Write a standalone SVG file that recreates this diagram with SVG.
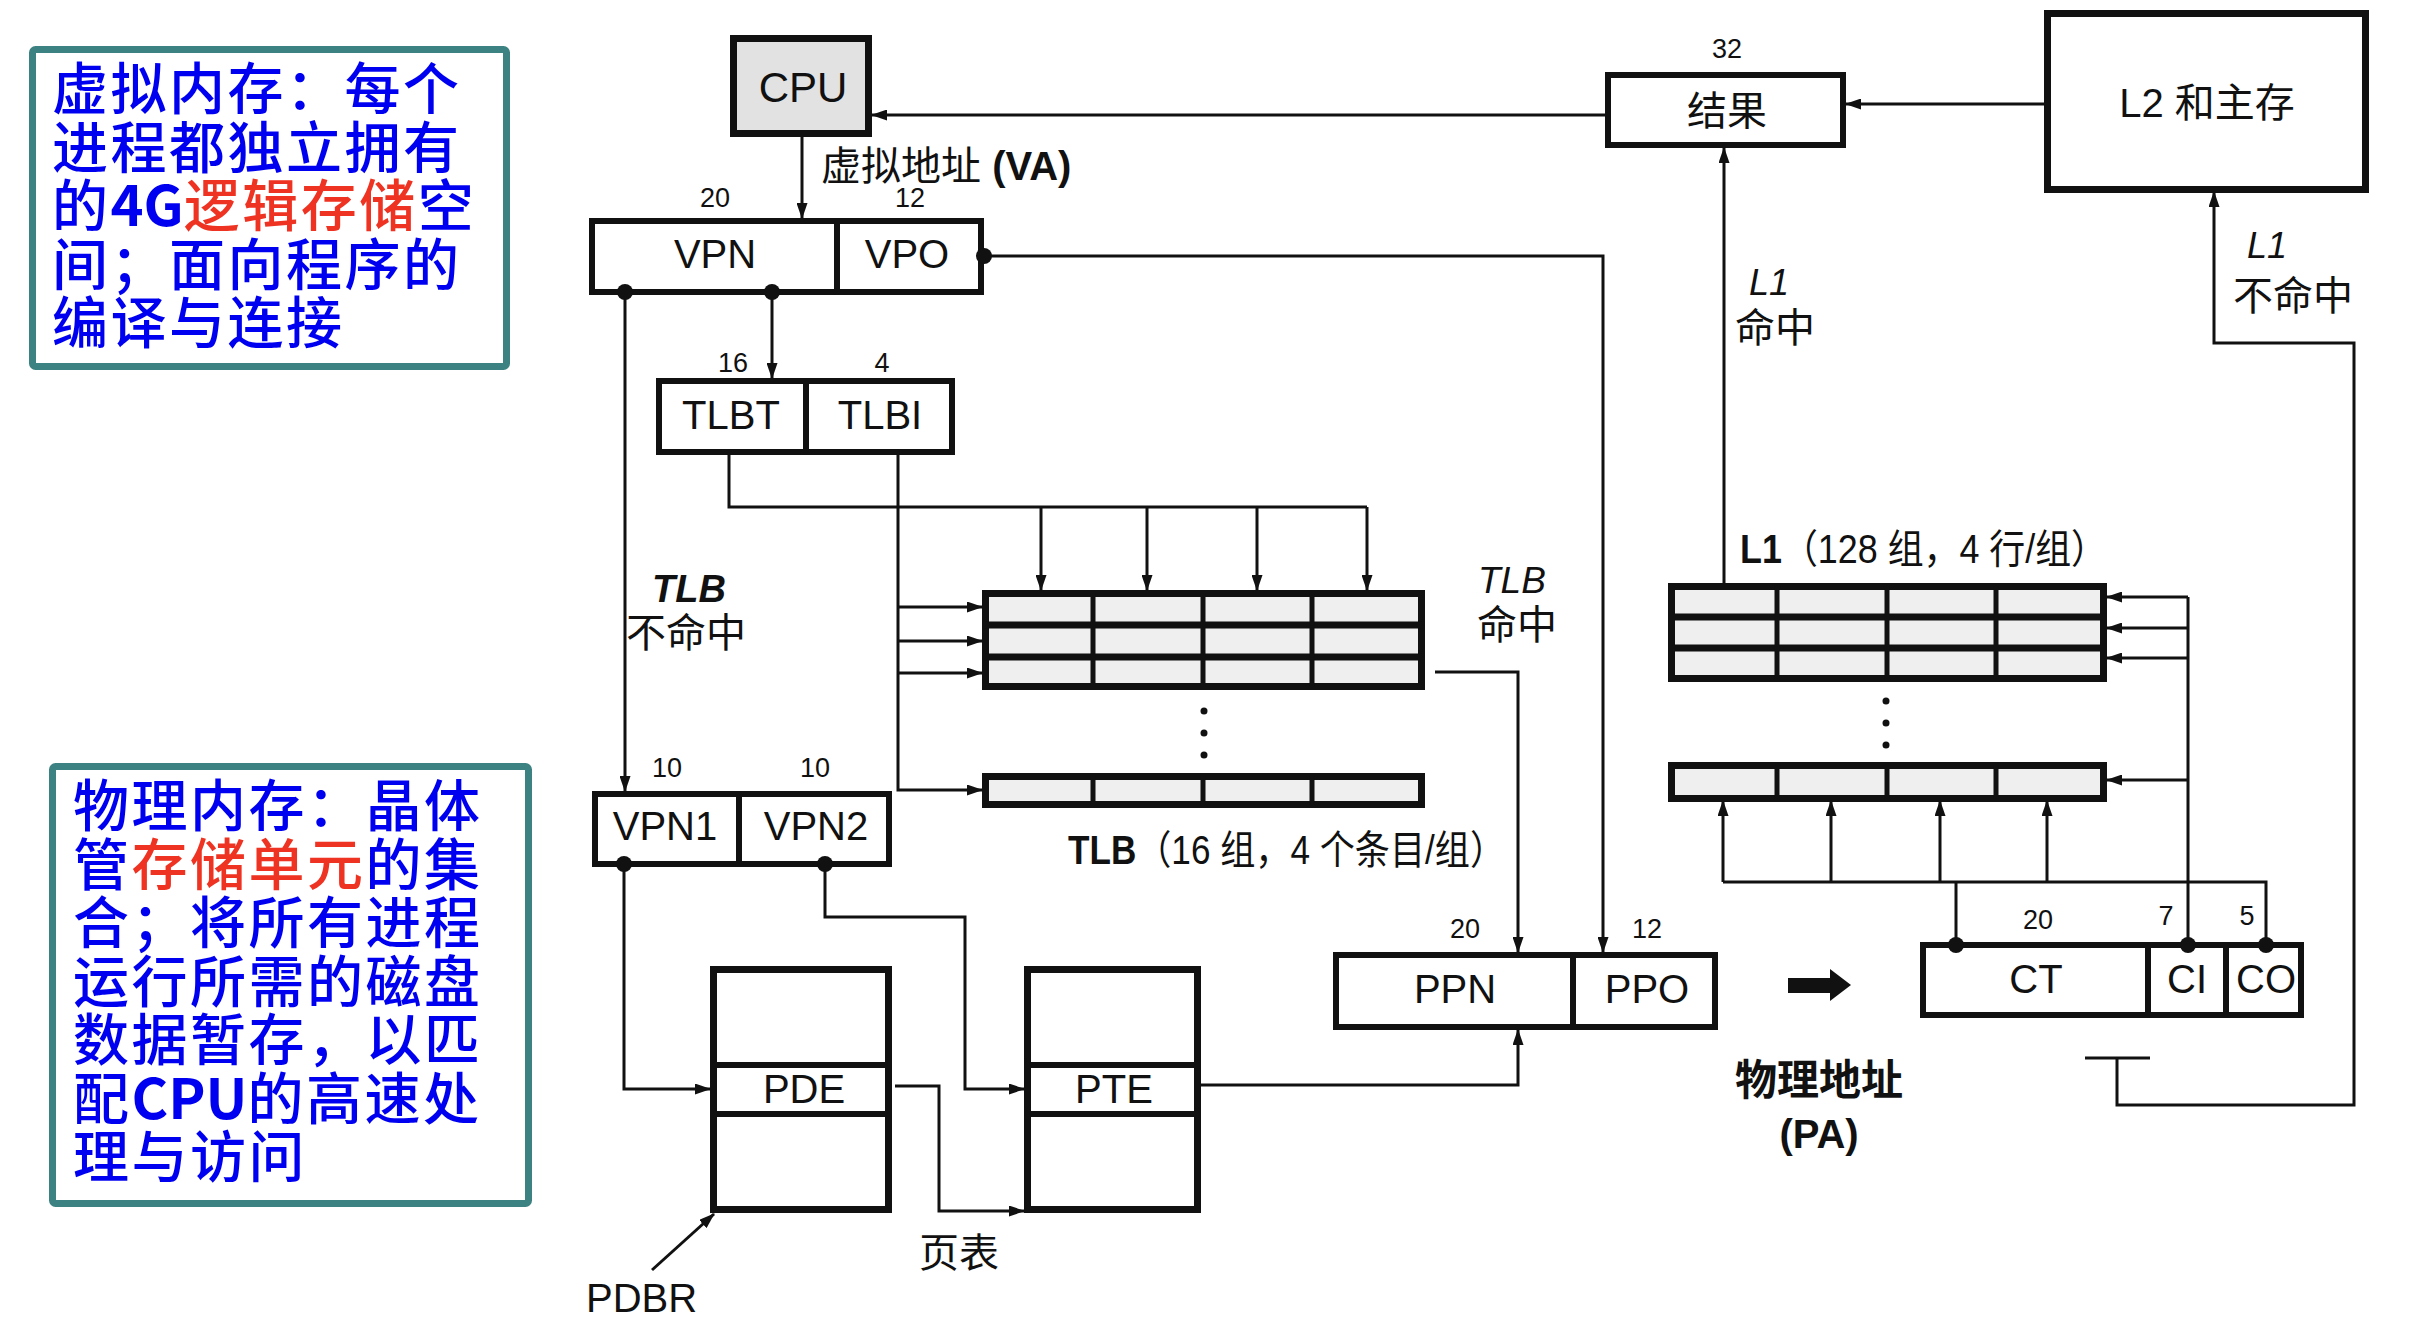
<svg xmlns="http://www.w3.org/2000/svg" width="2418" height="1324" viewBox="0 0 2418 1324">
<defs>
<marker id="ah" markerUnits="userSpaceOnUse" markerWidth="16" markerHeight="11" refX="15" refY="5.5" orient="auto">
<path d="M0,0 L16,5.5 L0,11 z" fill="#111"/>
</marker>
<style>
.note{fill:#fff;stroke:#3d8282;stroke-width:7}
.nt{font-family:"Noto Sans CJK SC",sans-serif;font-size:56px;letter-spacing:2.5px;fill:#0000f0;font-weight:500}
.red{fill:#ee3322}
.b{font-weight:bold}
.nb{font-weight:bold;letter-spacing:0}
.box{fill:#fff;stroke:#111;stroke-width:6}
.thick{stroke-width:7}
.gray{fill:#dcdcdc}
.cgray{fill:#e2e2e2}
.cell{fill:#efefef}
.div{stroke:#111;stroke-width:5;fill:none}
.t{font-family:"Liberation Sans","Noto Sans CJK SC",Arial,sans-serif;font-size:40px;fill:#111}
.c{text-anchor:middle}
.n{font-size:27px}
.it{font-style:italic}
.con path{fill:none;stroke:#111;stroke-width:3}
.arr{marker-end:url(#ah)}
.dot{fill:#111}
</style>
</defs>

<g id="note-virtual">
<rect class="note" x="32.5" y="49.5" width="474" height="317" rx="3"/>
<text class="nt" x="52" y="109">虚拟内存：每个</text>
<text class="nt" x="52" y="167.5">进程都独立拥有</text>
<text class="nt" x="52" y="226">的<tspan class="nb">4G</tspan><tspan class="red">逻辑存储</tspan>空</text>
<text class="nt" x="52" y="284.5">间；面向程序的</text>
<text class="nt" x="52" y="343">编译与连接</text>
</g>

<g id="note-physical">
<rect class="note" x="52.5" y="766.5" width="476" height="437" rx="3"/>
<text class="nt" x="73" y="826">物理内存：晶体</text>
<text class="nt" x="73" y="884.5">管<tspan class="red">存储单元</tspan>的集</text>
<text class="nt" x="73" y="943">合；将所有进程</text>
<text class="nt" x="73" y="1001.5">运行所需的磁盘</text>
<text class="nt" x="73" y="1060">数据暂存，以匹</text>
<text class="nt" x="73" y="1118.5">配<tspan class="nb">CPU</tspan>的高速处</text>
<text class="nt" x="73" y="1177">理与访问</text>
</g>

<g id="cpu">
<rect class="box thick cgray" x="733.5" y="38.5" width="135" height="95"/>
<text class="t c" x="803" y="102" style="font-size:42px">CPU</text>
</g>

<g id="virtual-address">
<rect class="box" x="592" y="221" width="389" height="71"/>
<path class="div" d="M837,221 V292" style="stroke-width:6"/>
<text class="t c" x="715" y="268">VPN</text>
<text class="t c" x="907" y="268">VPO</text>
<text class="t c n" x="715" y="207">20</text>
<text class="t c n" x="910" y="207">12</text>
<text class="t" x="821" y="180">虚拟地址 <tspan class="b">(VA)</tspan></text>
</g>

<g id="tlb-fields">
<rect class="box" x="659" y="381" width="293" height="71"/>
<path class="div" d="M806,381 V452" style="stroke-width:6"/>
<text class="t c" x="731" y="429">TLBT</text>
<text class="t c" x="880" y="429">TLBI</text>
<text class="t c n" x="733" y="372">16</text>
<text class="t c n" x="882" y="372">4</text>
</g>

<g id="tlb">
<rect class="box thick cell" x="985.5" y="593.5" width="436" height="93"/>
<path class="div" d="M985,625 H1422 M985,657 H1422" style="stroke-width:7"/>
<path class="div" d="M1093,593 V687 M1203,593 V687 M1312,593 V687"/>
<circle class="dot" cx="1204" cy="711" r="3.5"/>
<circle class="dot" cx="1204" cy="733" r="3.5"/>
<circle class="dot" cx="1204" cy="755" r="3.5"/>
<rect class="box thick cell" x="985.5" y="776.5" width="436" height="28"/>
<path class="div" d="M1093,776 V805 M1203,776 V805 M1312,776 V805"/>
<text class="t" x="1068" y="864" textLength="437" lengthAdjust="spacingAndGlyphs"><tspan class="b">TLB</tspan>（16 组，4 个条目/组）</text>
</g>

<g id="vpn12">
<rect class="box" x="595" y="794" width="294" height="70"/>
<path class="div" d="M739,794 V864" style="stroke-width:6"/>
<text class="t c" x="665" y="840">VPN1</text>
<text class="t c" x="816" y="840">VPN2</text>
<text class="t c n" x="667" y="777">10</text>
<text class="t c n" x="815" y="777">10</text>
</g>

<g id="page-directory">
<rect class="gray" x="713" y="969" width="176" height="241"/>
<rect fill="#fff" x="713" y="1065" width="176" height="49"/>
<rect class="box thick" x="713.5" y="969.5" width="175" height="240" fill="none"/>
<path class="div" d="M713,1065 H889 M713,1114 H889" style="stroke-width:6"/>
<text class="t c" x="804" y="1103">PDE</text>
</g>

<g id="page-table">
<rect class="gray" x="1027" y="969" width="171" height="241"/>
<rect fill="#fff" x="1027" y="1065" width="171" height="49"/>
<rect class="box thick" x="1027.5" y="969.5" width="170" height="240" fill="none"/>
<path class="div" d="M1027,1065 H1198 M1027,1114 H1198" style="stroke-width:6"/>
<text class="t c" x="1114" y="1103">PTE</text>
</g>

<g id="physical-address-tlb">
<rect class="box" x="1336" y="955" width="379" height="72"/>
<path class="div" d="M1573,955 V1027" style="stroke-width:6"/>
<text class="t c" x="1455" y="1003">PPN</text>
<text class="t c" x="1647" y="1003">PPO</text>
<text class="t c n" x="1465" y="938">20</text>
<text class="t c n" x="1647" y="938">12</text>
</g>

<g id="result">
<rect class="box" x="1608" y="75" width="235" height="70"/>
<text class="t c" x="1727" y="125">结果</text>
<text class="t c n" x="1727" y="58">32</text>
</g>

<g id="l2">
<rect class="box thick" x="2047.5" y="13.5" width="318" height="176"/>
<text class="t c" x="2207" y="117">L2 和主存</text>
</g>

<g id="l1">
<rect class="box thick cell" x="1671.5" y="586.5" width="432" height="92"/>
<path class="div" d="M1671,617 H2104 M1671,648 H2104" style="stroke-width:7"/>
<path class="div" d="M1777,586 V679 M1887,586 V679 M1996,586 V679"/>
<circle class="dot" cx="1886" cy="701" r="3.5"/>
<circle class="dot" cx="1886" cy="723" r="3.5"/>
<circle class="dot" cx="1886" cy="745" r="3.5"/>
<rect class="box thick cell" x="1671.5" y="765.5" width="432" height="33"/>
<path class="div" d="M1777,765 V799 M1887,765 V799 M1996,765 V799"/>
<text class="t" x="1740" y="563" textLength="367" lengthAdjust="spacingAndGlyphs"><tspan class="b">L1</tspan>（128 组，4 行/组）</text>
</g>

<g id="physical-address-cache">
<rect class="box" x="1923" y="945" width="378" height="70"/>
<path class="div" d="M2148,945 V1015 M2226,945 V1015" style="stroke-width:6"/>
<text class="t c" x="2036" y="993">CT</text>
<text class="t c" x="2187" y="993">CI</text>
<text class="t c" x="2266" y="993">CO</text>
<text class="t c n" x="2038" y="929">20</text>
<text class="t c n" x="2166" y="925">7</text>
<text class="t c n" x="2247" y="925">5</text>
<polygon points="1788,978 1830,978 1830,969 1851,985 1830,1001 1830,993 1788,993" fill="#111"/>
<text class="t b" x="1735" y="1095" style="font-size:42px">物理地址</text>
<text class="t c b" x="1819" y="1148">(PA)</text>
</g>

<g id="labels">
<text class="t b it" x="652" y="602" style="font-size:38px">TLB</text>
<text class="t" x="626" y="647">不命中</text>
<text class="t it" x="1478" y="593" style="font-size:37px">TLB</text>
<text class="t" x="1477" y="639">命中</text>
<text class="t it" x="1749" y="295" style="font-size:36px">L1</text>
<text class="t" x="1735" y="342">命中</text>
<text class="t it" x="2247" y="258" style="font-size:36px">L1</text>
<text class="t" x="2233" y="310">不命中</text>
<text class="t" x="919" y="1267">页表</text>
<text class="t" x="586" y="1312">PDBR</text>
</g>

<g id="connectors" class="con">
<path class="arr" d="M1605,115 H872"/>
<path class="arr" d="M2044,104 H1846"/>
<path class="arr" d="M802,137 V218"/>
<path class="arr" d="M984,256 H1603 V952"/>
<path class="arr" d="M772,292 V378"/>
<path class="arr" d="M625,292 V791"/>
<path d="M729,452 V507 H1367"/>
<path class="arr" d="M1041,507 V590"/>
<path class="arr" d="M1147,507 V590"/>
<path class="arr" d="M1257,507 V590"/>
<path class="arr" d="M1367,507 V590"/>
<path class="arr" d="M898,452 V790 H982"/>
<path class="arr" d="M898,607 H982"/>
<path class="arr" d="M898,641 H982"/>
<path class="arr" d="M898,673 H982"/>
<path class="arr" d="M1435,672 H1518 V952"/>
<path class="arr" d="M624,867 V1089 H710"/>
<path class="arr" d="M825,867 V917 H965 V1089 H1024"/>
<path class="arr" d="M895,1086 H939 V1211 H1024"/>
<path class="arr" d="M652,1270 L714,1214"/>
<path class="arr" d="M1201,1085 H1518 V1030"/>
<path class="arr" d="M1724,583 V148"/>
<path d="M2188,942 V597"/>
<path class="arr" d="M2188,597 H2107"/>
<path class="arr" d="M2188,628 H2107"/>
<path class="arr" d="M2188,658 H2107"/>
<path class="arr" d="M2188,780 H2107"/>
<path d="M1956,945 V882"/>
<path d="M2266,942 V882 H1723"/>
<path class="arr" d="M1723,882 V801"/>
<path class="arr" d="M1831,882 V801"/>
<path class="arr" d="M1940,882 V801"/>
<path class="arr" d="M2047,882 V801"/>
<path d="M2085,1058 H2150"/>
<path class="arr" d="M2117,1058 V1105 H2354 V343 H2214 V192"/>
<circle class="dot" cx="625" cy="292" r="8"/>
<circle class="dot" cx="772" cy="292" r="8"/>
<circle class="dot" cx="984" cy="256" r="8"/>
<circle class="dot" cx="624" cy="864" r="8"/>
<circle class="dot" cx="825" cy="864" r="8"/>
<circle class="dot" cx="1956" cy="945" r="8"/>
<circle class="dot" cx="2188" cy="945" r="8"/>
<circle class="dot" cx="2266" cy="945" r="8"/>
</g>
</svg>
